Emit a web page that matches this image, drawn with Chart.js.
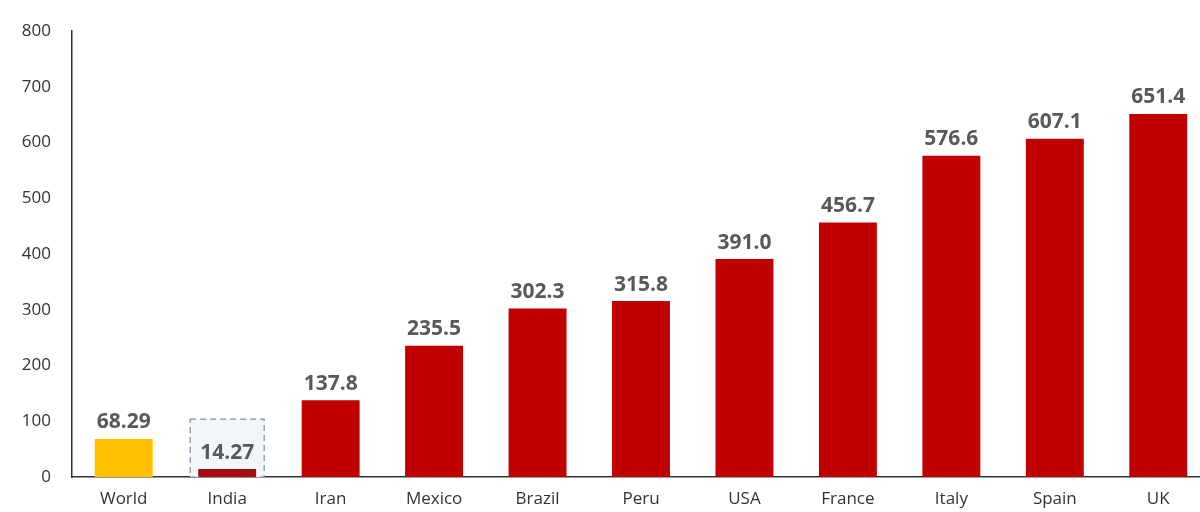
<!DOCTYPE html>
<html>
<head>
<meta charset="utf-8">
<script src="https://cdn.jsdelivr.net/npm/chart.js@4.4.1/dist/chart.umd.min.js"></script>
<style>
  html, body { margin: 0; padding: 0; background: #fff; overflow: hidden; }
  #wrap { width: 1210px; height: 512px; position: relative; }
</style>
</head>
<body>
<div id="wrap"><canvas id="chart"></canvas></div>
<script>
const countries = ['World', 'India', 'Iran', 'Mexico', 'Brazil', 'Peru', 'USA', 'France', 'Italy', 'Spain', 'UK'];
const values = [68.29, 14.27, 137.8, 235.5, 302.3, 315.8, 391.0, 456.7, 576.6, 607.1, 651.4];
const valueLabels = ['68.29', '14.27', '137.8', '235.5', '302.3', '315.8', '391.0', '456.7', '576.6', '607.1', '651.4'];
const yTicks = [0, 100, 200, 300, 400, 500, 600, 700, 800];
const highlightIndex = 1;   // India, boxed
const highlightTop = 104;

const barColors = countries.map((c, i) => {
    if (i === 0) return '#FFC000';
    if (i === highlightIndex) return '#A30D0D';
    return '#C00000';
});

// dashed box behind India
const boxPlugin = {
    id: 'boxPlugin',
    beforeDatasetsDraw(chart) {
        const ctx = chart.ctx;
        const x = chart.scales.x, y = chart.scales.y;
        const cx = x.getPixelForValue(highlightIndex);
        const left = cx - 37, right = cx + 37;
        const top = y.getPixelForValue(highlightTop), bottom = y.getPixelForValue(0);
        ctx.save();
        ctx.fillStyle = '#F1F6FB';
        ctx.fillRect(left, top, right - left, bottom - top);
        ctx.strokeStyle = '#7A8A9C';
        ctx.lineWidth = 1.2;
        ctx.setLineDash([6, 4]);
        ctx.strokeRect(left, top, right - left, bottom - top);
        ctx.restore();
    }
};

// value labels above bars
const labelPlugin = {
    id: 'labelPlugin',
    afterDatasetsDraw(chart) {
        const ctx = chart.ctx;
        const meta = chart.getDatasetMeta(0);
        ctx.save();
        ctx.fillStyle = '#595959';
        ctx.font = 'bold 21px "Open Sans"';
        ctx.textAlign = 'center';
        ctx.textBaseline = 'bottom';
        meta.data.forEach((bar, i) => {
            ctx.fillText(valueLabels[i], bar.x, bar.y - 6);
        });
        ctx.restore();
    }
};

new Chart(document.getElementById('chart'), {
    type: 'bar',
    data: {
        labels: countries,
        datasets: [{
            data: values,
            backgroundColor: barColors,
            borderWidth: 0,
            barPercentage: 0.56,
            categoryPercentage: 1
        }]
    },
    options: {
        responsive: true,
        maintainAspectRatio: false,
        animation: false,
        layout: { padding: { top: 29, right: 0, left: 0, bottom: 0 } },
        plugins: { legend: { display: false }, tooltip: { enabled: false } },
        scales: {
            x: {
                grid: { display: false, drawTicks: false },
                border: { display: true, color: '#333', width: 1.5 },
                ticks: { color: '#333', font: { family: 'Open Sans', size: 17 }, padding: 12 },
                afterFit(s) { s.height = 35; }
            },
            y: {
                min: 0,
                max: 800,
                afterBuildTicks(s) { s.ticks = yTicks.map(v => ({ value: v })); },
                grid: { display: false, drawTicks: false },
                border: { display: true, color: '#333', width: 1.5 },
                ticks: { color: '#333', font: { family: 'Open Sans', size: 17 }, padding: 21 },
                afterFit(s) { s.width = 72; }
            }
        }
    },
    plugins: [boxPlugin, labelPlugin]
});
</script>
</body>
</html>
